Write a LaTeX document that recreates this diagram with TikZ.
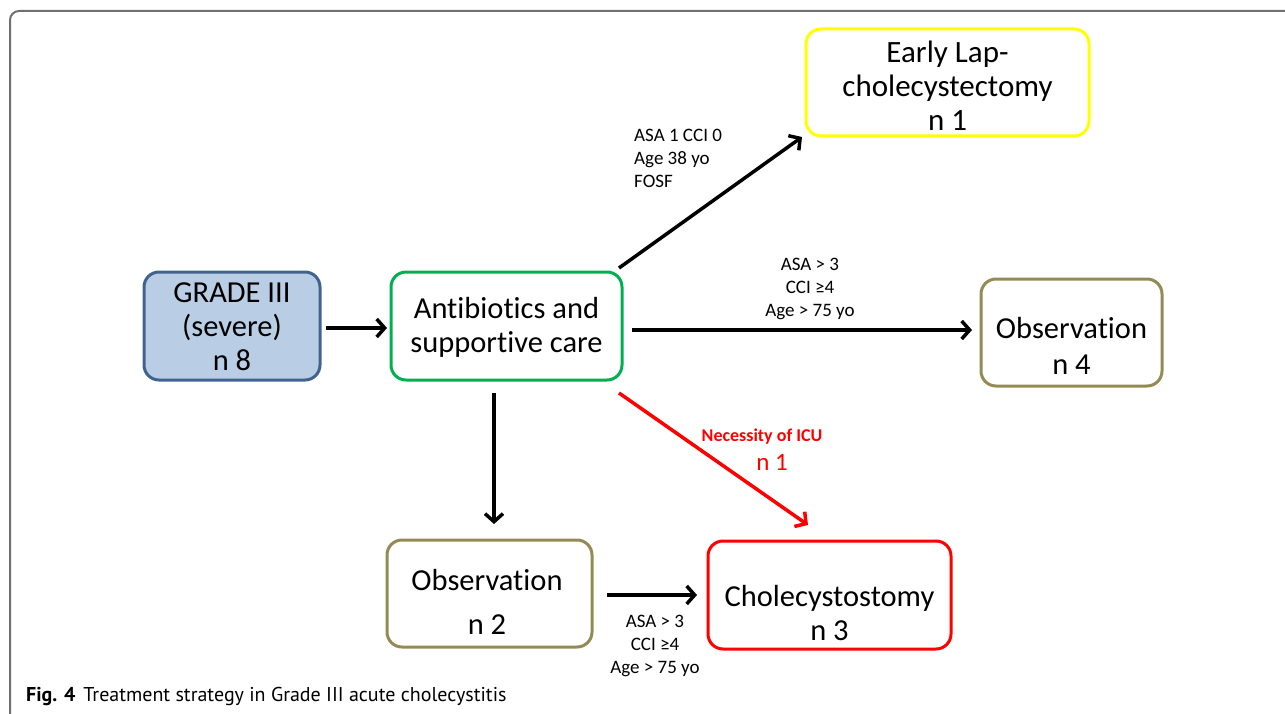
\documentclass[tikz,border=0pt]{standalone}
\usepackage{fontspec}
\setmainfont{Carlito}[Ligatures={NoCommon}]
\newfontfamily\capfont{PT Sans}
\usetikzlibrary{arrows.meta}
\definecolor{gradefill}{HTML}{B9CDE5}
\definecolor{gradedraw}{HTML}{41628C}
\definecolor{greenc}{HTML}{00B050}
\definecolor{yellowc}{HTML}{FFFF00}
\definecolor{olivec}{HTML}{948A54}
\definecolor{redc}{HTML}{FF0000}
\definecolor{framec}{HTML}{707070}
\tikzset{
  box/.style={draw, line width=3pt, rounded corners=15pt, inner sep=0pt},
  boxtext/.style={align=center, inner sep=0pt, font=\fontsize{30.5}{34}\selectfont},
  arr/.style={line width=3.5pt, -{Straight Barb[length=8pt,width=18pt]}},
  lbl/.style={font=\fontsize{19}{23}\selectfont, align=center, inner sep=0pt},
}
\begin{document}
\begin{tikzpicture}[x=1pt,y=-1pt]
\useasboundingbox (0,0) rectangle (1285,714);
% frame
\draw[framec, line width=2pt, rounded corners=9pt] (1290,11) -- (10,11) -- (10,720);
% boxes
\node[box, draw=gradedraw, fill=gradefill, minimum width=176pt, minimum height=108pt] (grade) at (232,326) {};
\node[boxtext] (gradet) at (232,327) {GRADE III\\(severe)\\n 8};
\node[box, draw=greenc, minimum width=231pt, minimum height=108pt] (anti) at (506.5,326) {};
\node[boxtext] (antit) at (506.5,327) {Antibiotics and\\supportive care};
\node[box, draw=yellowc, minimum width=283pt, minimum height=107pt] (early) at (947.5,82.5) {};
\node[boxtext, font=\fontsize{31}{34}\selectfont] (earlyt) at (947.5,86) {Early Lap-\\cholecystectomy\\n 1};
\node[box, draw=olivec, minimum width=181pt, minimum height=107pt] (obsr) at (1071.5,332.5) {};
\node[boxtext] (obsrt) at (1071.5,345.5) {Observation\\[2pt]n 4};
\node[box, draw=olivec, minimum width=205pt, minimum height=107pt] (obsb) at (489.5,593.5) {};
\node[boxtext] (obsbt) at (487,602) {Observation\\[10pt]n 2};
\node[box, draw=redc, minimum width=243pt, minimum height=108pt] (chole) at (829.5,595) {};
\node[boxtext] (cholet) at (829.5,613) {Cholecystostomy\\n 3};
% arrows
\coordinate (a1s) at (326,328); \coordinate (a1e) at (387,328);
\draw[arr] (a1s) -- (a1e);
\coordinate (a2s) at (632,330); \coordinate (a2e) at (972,330);
\draw[arr] (a2s) -- (a2e);
\coordinate (a3s) at (619,268); \coordinate (a3e) at (802,137);
\draw[arr] (a3s) -- (a3e);
\coordinate (a4s) at (494,393); \coordinate (a4e) at (494,524);
\draw[arr] (a4s) -- (a4e);
\coordinate (a5s) at (619,393); \coordinate (a5e) at (808,525);
\draw[arr, redc] (a5s) -- (a5e);
\coordinate (a6s) at (607,595); \coordinate (a6e) at (697,595);
\draw[arr] (a6s) -- (a6e);
% labels
\node[lbl, align=left, anchor=north west] (l1) at (634,129) {ASA 1 CCI 0\\Age 38 yo\\FOSF};
\node[lbl] (l2) at (810,289) {ASA > 3\\CCI ≥4\\Age > 75 yo};
\node[lbl, text=redc, font=\fontsize{18}{22}\bfseries\selectfont] (l3) at (762,437) {Necessity of ICU};
\node[lbl, text=redc, font=\fontsize{25}{28}\selectfont] (l4) at (772,462) {n 1};
\node[lbl] (l5) at (655,646) {ASA > 3\\CCI ≥4\\Age > 75 yo};
\node[anchor=west, inner sep=0pt, font=\capfont\fontsize{20}{22}\selectfont] (cap) at (26,696) {\textbf{Fig. 4}\hspace{8pt}Treatment strategy in Grade III acute cholecystitis};
\end{tikzpicture}
\end{document}
